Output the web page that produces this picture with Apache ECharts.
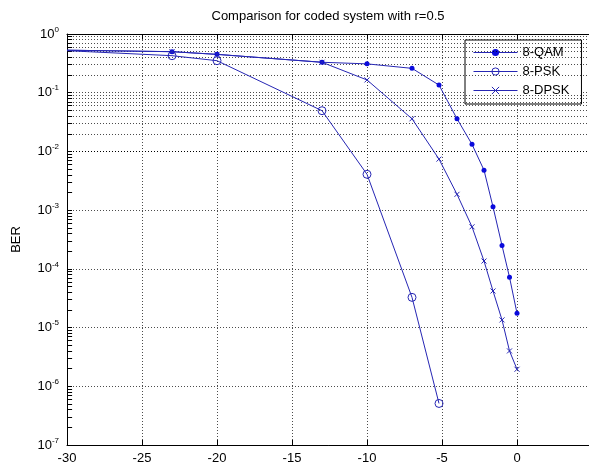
<!DOCTYPE html>
<html>
<head>
<meta charset="utf-8">
<script src="https://cdn.jsdelivr.net/npm/echarts@6/dist/echarts.min.js"></script>
<style>
html,body{margin:0;padding:0;background:#fff;}
#chart{width:589px;height:465px;}
</style>
</head>
<body>
<div id="chart"></div>
<script>
// ---- data ----
const titleText = 'Comparison for coded system with r=0.5';
const seriesNames = ['8-QAM', '8-PSK', '8-DPSK'];

const snrQAM = [-30, -23, -20, -13, -10, -7, -5.2, -4, -3, -2.2, -1.6, -1, -0.5, 0];
const berQAM = [0.53, 0.5, 0.45, 0.33, 0.31, 0.26, 0.135, 0.036, 0.0132, 0.0048, 0.00114, 2.5e-4, 7.2e-5, 1.75e-5];

const snrPSK = [-30, -23, -20, -13, -10, -7, -5.2];
const berPSK = [0.52, 0.427, 0.351, 0.0494, 0.00408, 3.27e-5, 5.1e-7];

const snrDPSK = [-30, -23, -20, -13, -10, -7, -5.2, -4, -3, -2.2, -1.6, -1, -0.5, 0];
const berDPSK = [0.53, 0.5, 0.45, 0.33, 0.165, 0.036, 0.0074, 0.00186, 5.2e-4, 1.36e-4, 4.2e-5, 1.35e-5, 4.0e-6, 1.95e-6];

const xTickLabels = [-30, -25, -20, -15, -10, -5, 0, 5];
const yDecades = [-7, -6, -5, -4, -3, -2, -1, 0];
const minorMultipliers = [2, 3, 4, 5, 6, 7, 8, 9];

// ---- chart ----
const FONT = 'Liberation Sans, Arial, sans-serif';
const lineColor = '#2626b4';
const markColor = '#0a0adc';
const gridStyle = {color: '#000', width: 1, type: [1, 2], opacity: 0.7};
const xMin = xTickLabels[0], xMax = xTickLabels[xTickLabels.length - 1];

function pairs(xs, ys){
  return xs.map((x, i) => x === xMin ? {value: [x, ys[i]], symbol: 'none'} : [x, ys[i]]);
}

const minorVals = [];
for (let d = 0; d < yDecades.length - 1; d++) {
  for (const m of minorMultipliers) minorVals.push(m * Math.pow(10, yDecades[d]));
}
const minorGrid = minorVals.map(v => ({yAxis: v}));
const minorTicks = minorVals.map(v => [{coord: [xMin, v]}, {coord: [xMin + 0.34, v]}]);

const crossPath = 'path://M0,0L10,10M10,0L0,10';
const qamItem = {color: markColor, borderColor: markColor, borderWidth: 0};
const pskItem = {color: 'rgba(255,255,255,0)', borderColor: lineColor, borderWidth: 1};
const dpskItem = {color: 'rgba(255,255,255,0)', borderColor: lineColor, borderWidth: 1};
const legendLine = {color: lineColor, width: 1};

const chart = echarts.init(document.getElementById('chart'), null, {renderer: 'canvas'});
chart.setOption({
  animation: false,
  backgroundColor: '#fff',
  textStyle: {fontFamily: FONT},
  title: {
    text: titleText,
    left: 328, top: 10, padding: 0, textAlign: 'center',
    textStyle: {fontSize: 13, fontWeight: 'normal', color: '#000', fontFamily: FONT}
  },
  grid: {left: 67, top: 34, width: 525, height: 411, outerBoundsMode: 'none', containLabel: false},
  legend: {
    orient: 'vertical',
    left: 465, top: 40,
    padding: [6, 12, 7, 8],
    itemWidth: 44, itemHeight: 9, itemGap: 6,
    borderColor: '#000', borderWidth: 1, backgroundColor: '#fff',
    textStyle: {fontSize: 13, color: '#000', fontFamily: FONT},
    data: [
      {name: seriesNames[0], itemStyle: qamItem, lineStyle: legendLine},
      {name: seriesNames[1], itemStyle: pskItem, lineStyle: legendLine},
      {name: seriesNames[2], itemStyle: dpskItem, lineStyle: legendLine}
    ]
  },
  xAxis: [{
    type: 'value', min: xMin, max: xMax, interval: 5,
    axisLine: {show: true, onZero: false, lineStyle: {color: '#000', width: 1}},
    axisTick: {show: true, inside: true, length: 5, lineStyle: {color: '#000'}},
    axisLabel: {fontSize: 13, color: '#000', margin: 7, fontFamily: FONT, showMaxLabel: true, showMinLabel: true, hideOverlap: false},
    splitLine: {show: true, lineStyle: gridStyle}
  }, {
    type: 'value', min: xMin, max: xMax, interval: 5, position: 'top',
    axisLine: {show: true, onZero: false, lineStyle: {color: '#000', width: 1}},
    axisTick: {show: true, inside: true, length: 5, lineStyle: {color: '#000'}},
    axisLabel: {show: false},
    splitLine: {show: false}
  }],
  yAxis: {
    type: 'log', logBase: 10, min: 1e-7, max: 1, interval: 1,
    name: 'BER', nameLocation: 'middle', nameGap: 44, nameRotate: 90,
    nameTextStyle: {fontSize: 13, color: '#000', fontFamily: FONT},
    axisLine: {show: true, onZero: false, lineStyle: {color: '#000', width: 1}},
    axisTick: {show: true, inside: true, length: 5, lineStyle: {color: '#000'}},
    splitLine: {show: true, lineStyle: gridStyle},
    axisLabel: {
      margin: 8, color: '#000',
      formatter: function (v) {
        const e = Math.round(Math.log10(v));
        return '{b|10}{e|' + e + '}';
      },
      rich: {
        b: {fontSize: 13, fontFamily: FONT, color: '#000'},
        e: {fontSize: 8, fontFamily: FONT, color: '#000', padding: [0, 0, 9, 0]}
      }
    }
  },
  series: [
    {
      name: '__grid', type: 'line', data: [], silent: true, z: 1,
      markLine: {silent: true, symbol: 'none', label: {show: false},
        lineStyle: gridStyle, emphasis: {disabled: true}, data: minorGrid}
    },
    {
      name: '__ticks', type: 'line', data: [], silent: true, z: 1,
      markLine: {silent: true, symbol: 'none', label: {show: false},
        lineStyle: {color: '#000', width: 1, type: 'solid'}, emphasis: {disabled: true}, data: minorTicks}
    },
    {
      name: seriesNames[0], type: 'line', data: pairs(snrQAM, berQAM), z: 5,
      lineStyle: {color: lineColor, width: 1},
      symbol: 'circle', symbolSize: 5,
      itemStyle: qamItem
    },
    {
      name: seriesNames[1], type: 'line', data: pairs(snrPSK, berPSK), z: 5,
      lineStyle: {color: lineColor, width: 1},
      symbol: 'circle', symbolSize: 8,
      itemStyle: pskItem
    },
    {
      name: seriesNames[2], type: 'line', data: pairs(snrDPSK, berDPSK), z: 5,
      lineStyle: {color: lineColor, width: 1},
      symbol: crossPath, symbolSize: 5,
      itemStyle: dpskItem
    }
  ]
});
</script>
</body>
</html>
